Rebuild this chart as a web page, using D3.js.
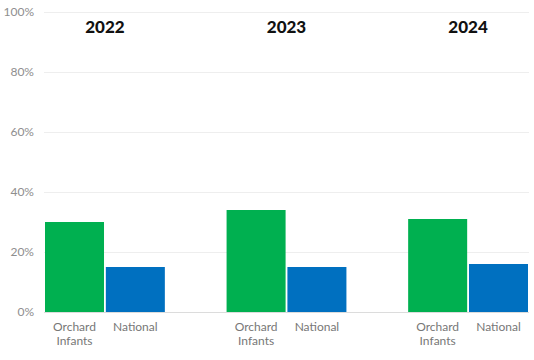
<!DOCTYPE html>
<html>
<head>
<meta charset="utf-8">
<script src="https://cdn.jsdelivr.net/npm/d3@7"></script>
<style>
  html, body { margin: 0; padding: 0; background: #fff; }
  svg { display: block; }
</style>
</head>
<body>
<svg id="chart" width="534" height="360"></svg>
<script>
// Share of pupils, by year, school vs national
const years = ["2022", "2023", "2024"];
const groups = ["Orchard Infants", "National"];
const orchardValues = [30, 34, 31];
const nationalValues = [15, 15, 16];
const yTicks = [0, 20, 40, 60, 80, 100];

const colors = { "Orchard Infants": "#00B050", "National": "#0070C0" };

const data = years.map((year, i) => ({
  year,
  values: [
    { key: groups[0], value: orchardValues[i] },
    { key: groups[1], value: nationalValues[i] }
  ]
}));

const svg = d3.select("#chart");
const margin = { top: 12, right: 6, bottom: 48, left: 45 };
const width = 534 - margin.left - margin.right;
const height = 360 - margin.top - margin.bottom;

const g = svg.append("g").attr("transform", `translate(${margin.left},${margin.top})`);

const y = d3.scaleLinear().domain([0, 100]).range([height, 0]);
const x0 = d3.scaleBand().domain(years).range([0, width]).paddingInner(0.34).paddingOuter(0);
const x1 = d3.scaleBand().domain(groups).range([0, x0.bandwidth()]).paddingInner(0.03);

// horizontal gridlines
g.append("g")
  .selectAll("line")
  .data(yTicks)
  .join("line")
  .attr("x1", -1)
  .attr("x2", width + 1)
  .attr("y1", d => y(d) + 0.5)
  .attr("y2", d => y(d) + 0.5)
  .attr("stroke", d => d === 0 ? "#dcdcdc" : "#eeeeee")
  .attr("stroke-width", 1);

// y axis labels
const yAxis = d3.axisLeft(y).tickValues(yTicks).tickFormat(d => d + "%").tickSize(0).tickPadding(11);
g.append("g")
  .call(yAxis)
  .call(s => s.select(".domain").remove())
  .call(s => s.selectAll("text")
    .attr("fill", "#8e8e8e")
    .style("font-family", "Lato, 'Open Sans', sans-serif")
    .style("font-size", "12px"));

// bars
const yearG = g.selectAll(".year")
  .data(data)
  .join("g")
  .attr("class", "year")
  .attr("transform", d => `translate(${x0(d.year)},0)`);

yearG.selectAll("rect")
  .data(d => d.values)
  .join("rect")
  .attr("x", d => x1(d.key))
  .attr("width", x1.bandwidth())
  .attr("y", d => y(d.value))
  .attr("height", d => y(0) - y(d.value))
  .attr("fill", d => colors[d.key]);

// year headings
yearG.append("text")
  .attr("x", x0.bandwidth() / 2)
  .attr("y", 21)
  .attr("text-anchor", "middle")
  .attr("fill", "#111")
  .style("font-family", "Lato, 'Open Sans', sans-serif")
  .style("font-weight", "900")
  .style("font-size", "17px")
  .text(d => d.year);

// category labels under bars
yearG.selectAll(".cat")
  .data(d => d.values)
  .join("text")
  .attr("class", "cat")
  .attr("x", d => x1(d.key) + x1.bandwidth() / 2)
  .attr("y", height + 19)
  .attr("text-anchor", "middle")
  .attr("fill", "#777")
  .style("font-family", "Lato, 'Open Sans', sans-serif")
  .style("font-size", "12px")
  .each(function(d) {
    const words = d.key.split(" ");
    const t = d3.select(this);
    words.forEach((w, i) => {
      t.append("tspan")
        .attr("x", x1(d.key) + x1.bandwidth() / 2)
        .attr("dy", i === 0 ? 0 : 14)
        .text(w);
    });
  });
</script>
</body>
</html>
